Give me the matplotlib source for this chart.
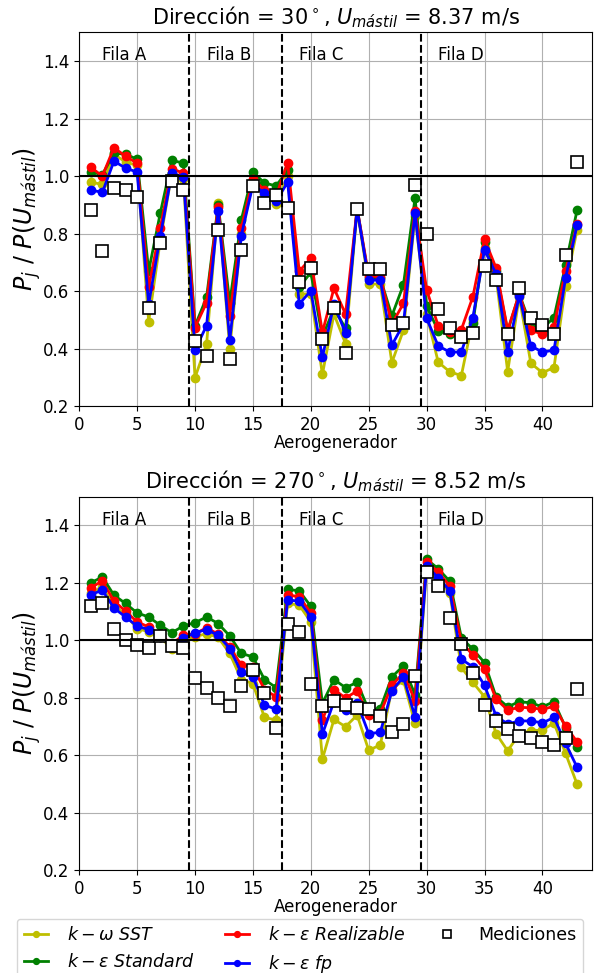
import numpy as np
import matplotlib
matplotlib.use('Agg')
import matplotlib.pyplot as plt

turbines = np.arange(1, 44)
row_limits = [9.5, 17.5, 29.5]
row_names = ['Fila A', 'Fila B', 'Fila C', 'Fila D']
row_label_x = [2, 11, 19, 31]

# --- Dirección 30° ---
sst_30 = [0.979, 0.971, 1.076, 1.049, 1.037, 0.494, 0.776, 1.010, 0.990, 0.299,
          0.415, 0.906, 0.400, 0.800, 0.980, 0.935, 0.903, 1.000, 0.590, 0.590,
          0.310, 0.520, 0.417, 0.885, 0.624, 0.625, 0.351, 0.464, 0.860, 0.520,
          0.353, 0.319, 0.306, 0.500, 0.750, 0.650, 0.320, 0.580, 0.349, 0.316,
          0.334, 0.619, 0.814]
std_30 = [1.014, 1.005, 1.080, 1.076, 1.059, 0.670, 0.871, 1.055, 1.045, 0.479,
          0.578, 0.900, 0.560, 0.848, 1.014, 0.976, 0.966, 1.020, 0.613, 0.665,
          0.440, 0.540, 0.470, 0.888, 0.645, 0.645, 0.514, 0.622, 0.923, 0.548,
          0.462, 0.450, 0.440, 0.490, 0.770, 0.670, 0.460, 0.590, 0.479, 0.470,
          0.508, 0.690, 0.883]
real_30 = [1.031, 1.000, 1.099, 1.069, 1.045, 0.613, 0.820, 1.026, 1.010, 0.473,
           0.560, 0.894, 0.514, 0.820, 0.990, 0.952, 0.930, 1.047, 0.669, 0.714,
           0.456, 0.610, 0.520, 0.888, 0.653, 0.650, 0.485, 0.557, 0.880, 0.605,
           0.479, 0.456, 0.466, 0.581, 0.781, 0.680, 0.464, 0.590, 0.464, 0.450,
           0.476, 0.671, 0.834]
fp_30 = [0.952, 0.943, 1.052, 1.028, 1.014, 0.555, 0.790, 1.010, 0.997, 0.395,
         0.480, 0.880, 0.429, 0.793, 0.970, 0.941, 0.912, 0.979, 0.555, 0.601,
         0.369, 0.555, 0.453, 0.886, 0.638, 0.638, 0.412, 0.485, 0.871, 0.506,
         0.409, 0.388, 0.388, 0.508, 0.744, 0.659, 0.389, 0.584, 0.409, 0.388,
         0.394, 0.645, 0.831]
meas_30 = [0.883, 0.738, 0.957, 0.951, 0.929, 0.540, 0.766, 0.983, 0.953, 0.427,
           0.374, 0.813, 0.363, 0.743, 0.966, 0.907, 0.935, 0.890, 0.630, 0.679,
           0.433, 0.541, 0.386, 0.886, 0.676, 0.676, 0.481, 0.490, 0.970, 0.797,
           0.537, 0.470, 0.441, 0.453, 0.688, 0.638, 0.450, 0.609, 0.508, 0.481,
           0.450, 0.727, 1.049]

# --- Dirección 270° ---
sst_270 = [1.165, 1.185, 1.120, 1.090, 1.040, 1.030, 1.010, 0.971, 1.000, 1.012,
           1.023, 1.010, 0.954, 0.863, 0.849, 0.731, 0.722, 1.128, 1.122, 1.064,
           0.586, 0.724, 0.699, 0.739, 0.617, 0.635, 0.830, 0.860, 0.710, 1.250,
           1.210, 1.165, 0.905, 0.853, 0.803, 0.675, 0.615, 0.673, 0.685, 0.687,
           0.712, 0.606, 0.498]
std_270 = [1.200, 1.220, 1.157, 1.128, 1.095, 1.081, 1.052, 1.026, 1.050, 1.061,
           1.081, 1.058, 1.015, 0.954, 0.942, 0.863, 0.835, 1.177, 1.172, 1.118,
           0.780, 0.863, 0.835, 0.853, 0.757, 0.762, 0.872, 0.911, 0.810, 1.282,
           1.249, 1.205, 1.009, 0.968, 0.922, 0.803, 0.768, 0.786, 0.782, 0.768,
           0.786, 0.696, 0.627]
real_270 = [1.183, 1.206, 1.137, 1.101, 1.064, 1.046, 1.017, 0.988, 1.017, 1.023,
            1.043, 1.021, 0.977, 0.913, 0.907, 0.828, 0.803, 1.157, 1.152, 1.095,
            0.722, 0.828, 0.799, 0.823, 0.739, 0.745, 0.843, 0.886, 0.789, 1.272,
            1.238, 1.189, 0.994, 0.948, 0.899, 0.795, 0.757, 0.766, 0.765, 0.759,
            0.770, 0.701, 0.646]
fp_270 = [1.159, 1.174, 1.112, 1.081, 1.049, 1.037, 1.010, 0.985, 1.006, 1.026,
          1.037, 1.017, 0.971, 0.888, 0.872, 0.774, 0.760, 1.139, 1.137, 1.081,
          0.673, 0.786, 0.757, 0.782, 0.675, 0.679, 0.824, 0.872, 0.733, 1.257,
          1.218, 1.172, 0.934, 0.907, 0.843, 0.736, 0.708, 0.719, 0.719, 0.712,
          0.731, 0.641, 0.557]
meas_270 = [1.119, 1.131, 1.039, 0.999, 0.983, 0.973, 1.014, 0.980, 0.974, 0.867,
            0.832, 0.800, 0.770, 0.841, 0.896, 0.815, 0.693, 1.058, 1.029, 0.847,
            0.770, 0.789, 0.774, 0.765, 0.761, 0.737, 0.681, 0.708, 0.875, 1.238,
            1.189, 1.078, 0.986, 0.886, 0.776, 0.718, 0.692, 0.667, 0.658, 0.646,
            0.635, 0.660, 0.830]

cases = [
    (30, 8.37, sst_30, std_30, real_30, fp_30, meas_30),
    (270, 8.52, sst_270, std_270, real_270, fp_270, meas_270),
]

fig = plt.figure(figsize=(6.0, 9.73), dpi=100)
positions = [[0.132, 0.5827, 0.855, 0.384], [0.132, 0.1059, 0.855, 0.3837]]

for pos, (dirn, umast, sst, std, real, fp, meas) in zip(positions, cases):
    ax = fig.add_axes(pos)
    ax.plot(turbines, sst, 'o-', color='y', lw=2, ms=6, label=r'$k-\omega\ SST$')
    ax.plot(turbines, std, 'o-', color='g', lw=2, ms=6, label=r'$k-\varepsilon\ Standard$')
    ax.plot(turbines, real, 'o-', color='r', lw=2, ms=6, label=r'$k-\varepsilon\ Realizable$')
    ax.plot(turbines, fp, 'o-', color='b', lw=2, ms=6, label=r'$k-\varepsilon\ fp$')
    ax.plot(turbines, meas, 's', mfc='white', mec='black', mew=1.2, ms=8, label='Mediciones')

    ax.axhline(1.0, color='black', lw=1.5)
    for xl in row_limits:
        ax.axvline(xl, color='black', ls='--', lw=1.5)
    for xt, name in zip(row_label_x, row_names):
        ax.text(xt, 1.42, name, fontsize=12, va='center')

    ax.set_xlim(0, 44.3)
    ax.set_ylim(0.2, 1.5)
    ax.set_xticks(np.arange(0, 45, 5))
    ax.set_yticks([0.2, 0.4, 0.6, 0.8, 1.0, 1.2, 1.4])
    ax.tick_params(labelsize=12)
    ax.grid(True, color='#b0b0b0', lw=0.8)
    ax.set_xlabel('Aerogenerador', fontsize=12, labelpad=0)
    ax.set_ylabel(r'$P_j\ /\ P(U_{mástil})$', fontsize=17, labelpad=0)
    ax.set_title(f'Dirección = {dirn}$^\\circ$, $U_{{mástil}}$ = {umast} m/s', fontsize=15)

handles, labels = ax.get_legend_handles_labels()
fig.legend(handles, labels, ncol=3, loc='upper left', bbox_to_anchor=(0.028, 0.0555),
           borderaxespad=0, fontsize=12.5, markerscale=0.7, handlelength=1.4,
           handletextpad=1.1, labelspacing=0.5, columnspacing=1.7, frameon=True)

fig.savefig('out.png', dpi=100)
